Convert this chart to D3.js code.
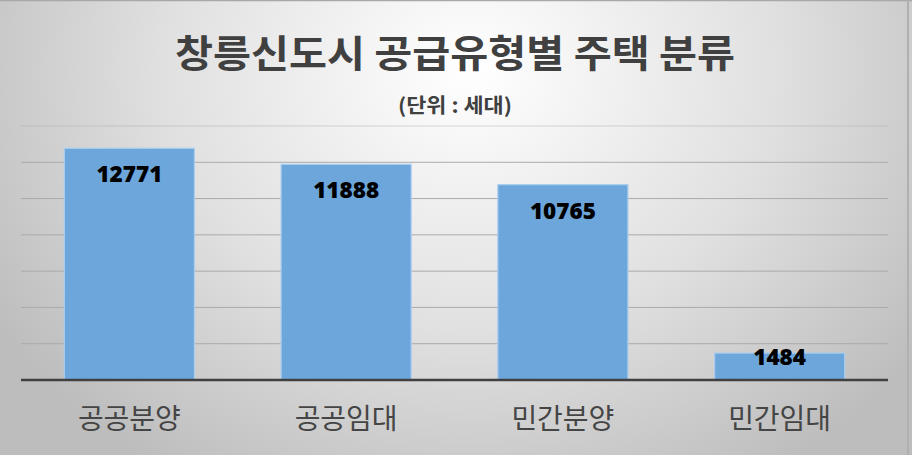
<!DOCTYPE html>
<html><head><meta charset="utf-8">
<script src="https://cdn.jsdelivr.net/npm/d3@7"></script>
<style>html,body{margin:0;padding:0;background:#fff;}svg{display:block;}</style>
</head><body>
<svg id="chart" width="912" height="460"></svg>
<script>
const categories = ["공공분양", "공공임대", "민간분양", "민간임대"];
const values = [12771, 11888, 10765, 1484];
const yTicks = [0, 2000, 4000, 6000, 8000, 10000, 12000, 14000];
const titleText = "창릉신도시 공급유형별 주택 분류";
const subtitleText = "(단위 : 세대)";

const W = 912, H = 460;
const svg = d3.select("#chart");
const defs = svg.append("defs");
const rg = defs.append("radialGradient").attr("id","bg")
  .attr("gradientUnits","userSpaceOnUse")
  .attr("cx",470).attr("cy",70).attr("r",560)
  .attr("gradientTransform","translate(470,70) scale(1,0.85) translate(-470,-70)");
rg.append("stop").attr("offset","0").attr("stop-color","#ffffff");
rg.append("stop").attr("offset","0.55").attr("stop-color","#e0e0e0");
rg.append("stop").attr("offset","1").attr("stop-color","#bdbdbd");

svg.append("rect").attr("x",0).attr("y",0).attr("width",W).attr("height",455).attr("fill","url(#bg)");
svg.append("rect").attr("x",0).attr("y",455).attr("width",W).attr("height",5).attr("fill","#ffffff");
svg.append("line").attr("x1",0).attr("x2",W).attr("y1",0.5).attr("y2",0.5).attr("stroke","#a8a8a8").attr("stroke-width",1.5);
svg.append("line").attr("x1",W-4).attr("x2",W-4).attr("y1",0).attr("y2",455).attr("stroke","#b0b0b0").attr("stroke-width",2);

const x = d3.scaleBand().domain(categories).range([21, 888]).paddingInner(0.4).paddingOuter(0.2);
const y = d3.scaleLinear().domain([0, 14000]).range([380, 126]);

// gridlines
svg.append("g").selectAll("line").data(yTicks.slice(1)).join("line")
  .attr("x1",21).attr("x2",888)
  .attr("y1",d=>y(d)).attr("y2",d=>y(d))
  .attr("stroke","#aaaaaa").attr("stroke-width",1).attr("opacity",d=>d===14000?0.45:1);

// bars
svg.append("g").selectAll("rect").data(values).join("rect")
  .attr("x",(d,i)=>x(categories[i]))
  .attr("y",d=>y(d))
  .attr("width",x.bandwidth())
  .attr("height",d=>y(0)-y(d))
  .attr("fill","#6ca6da")
  .attr("stroke","#a8cdef").attr("stroke-width",1.2);

// baseline
svg.append("line").attr("x1",21).attr("x2",888).attr("y1",y(0)).attr("y2",y(0))
  .attr("stroke","#404040").attr("stroke-width",2.5);

// value labels
svg.append("g").selectAll("text").data(values).join("text")
  .attr("x",(d,i)=>x(categories[i])+x.bandwidth()/2)
  .attr("y",d=>Math.min(y(d)+25.5, y(0)-24))
  .attr("text-anchor","middle").attr("dominant-baseline","central")
  .attr("font-family","'Open Sans', 'Noto Sans', sans-serif")
  .attr("font-weight",800).attr("font-size",22.5).attr("fill","#000")
  .text(d=>d);

// category labels
svg.append("g").selectAll("text").data(categories).join("text")
  .attr("x",d=>x(d)+x.bandwidth()/2)
  .attr("y",417)
  .attr("text-anchor","middle").attr("dominant-baseline","central")
  .attr("font-family","'Noto Sans CJK KR', sans-serif")
  .attr("font-size",28).attr("fill","#454545")
  .attr("textLength",103).attr("lengthAdjust","spacingAndGlyphs")
  .text(d=>d);

// title
svg.append("text").attr("x",455).attr("y",50)
  .attr("text-anchor","middle").attr("dominant-baseline","central")
  .attr("font-family","'Noto Sans CJK KR', sans-serif")
  .attr("font-weight","bold").attr("font-size",38).attr("fill","#404040")
  .attr("textLength",560).attr("lengthAdjust","spacingAndGlyphs")
  .text(titleText);

svg.append("text").attr("x",455).attr("y",104)
  .attr("text-anchor","middle").attr("dominant-baseline","central")
  .attr("font-family","'Noto Sans CJK KR', sans-serif")
  .attr("font-weight","bold").attr("font-size",20).attr("fill","#404040")
  .attr("textLength",114).attr("lengthAdjust","spacingAndGlyphs")
  .text(subtitleText);
</script>
</body></html>
